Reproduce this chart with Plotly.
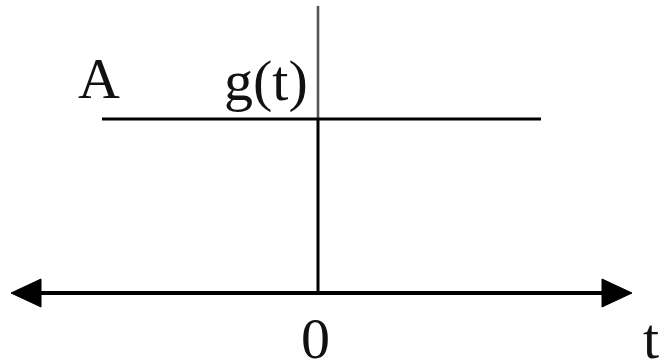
import plotly.graph_objects as go

# ---- data (t in units of 100 px, amplitude A = 1) ----
t_axis = [-3.05, 3.16]          # horizontal t-axis extent (arrow tips)
g_t = [-2.14, 2.25]             # extent of the drawn g(t) = A segment
g_val = [1.0, 1.0]              # g(t) = A
v_axis_top = 1.65               # top of the vertical axis
labels = ["A", "g(t)", "0", "t"]

# ---- style ----
W, H = 662, 364
XPX, YPX = 100.0, 174.0         # px per unit
x0px, y0px = 316.0, 293.0       # pixel location of origin
head_len, head_half = 0.30, 14 / YPX

xr = [-x0px / XPX, (W - x0px) / XPX]
yr = [-(H - y0px) / YPX, y0px / YPX]

fig = go.Figure()

# horizontal axis line
fig.add_trace(go.Scatter(x=[t_axis[0] + head_len * 0.8, t_axis[1] - head_len * 0.8], y=[0, 0],
                         mode="lines", line=dict(color="black", width=4), hoverinfo="skip"))
# arrowheads (computed from axis ends)
for tip, d in [(t_axis[0], 1), (t_axis[1], -1)]:
    base = tip + d * head_len
    fig.add_trace(go.Scatter(x=[tip, base, base, tip], y=[0, head_half, -head_half, 0],
                             mode="lines", fill="toself", fillcolor="black",
                             line=dict(color="black", width=1), hoverinfo="skip"))
# vertical axis (upper part lighter, lower part black)
fig.add_trace(go.Scatter(x=[0.02, 0.02], y=[g_val[0], v_axis_top], mode="lines",
                         line=dict(color="#555555", width=2.6), hoverinfo="skip"))
fig.add_trace(go.Scatter(x=[0.02, 0.02], y=[0, g_val[0]], mode="lines",
                         line=dict(color="black", width=3), hoverinfo="skip"))
# g(t) = A line
fig.add_trace(go.Scatter(x=g_t, y=g_val, mode="lines",
                         line=dict(color="black", width=3), hoverinfo="skip"))

def px(xp, yp):
    return (xp - x0px) / XPX, (y0px - yp) / YPX

font = dict(family="Liberation Serif", size=58, color="#111111")
pos = [(99, 100, "center"), (266, 102, "center"), (315, 360, "center"), (651, 360, "center")]
for lab, (xp, yp, xa) in zip(labels, pos):
    x, y = px(xp, yp)
    fig.add_annotation(x=x, y=y, text=lab, showarrow=False, xanchor=xa, yanchor="bottom",
                       yshift=-13, font=font)

fig.update_layout(width=W, height=H, margin=dict(l=0, r=0, t=0, b=0),
                  plot_bgcolor="white", paper_bgcolor="white", showlegend=False,
                  xaxis=dict(range=xr, visible=False, fixedrange=True),
                  yaxis=dict(range=yr, visible=False, fixedrange=True))
fig.write_html("out.html", config={"displayModeBar": False},
               post_script="document.body.style.margin='0';document.body.style.overflow='hidden';")
